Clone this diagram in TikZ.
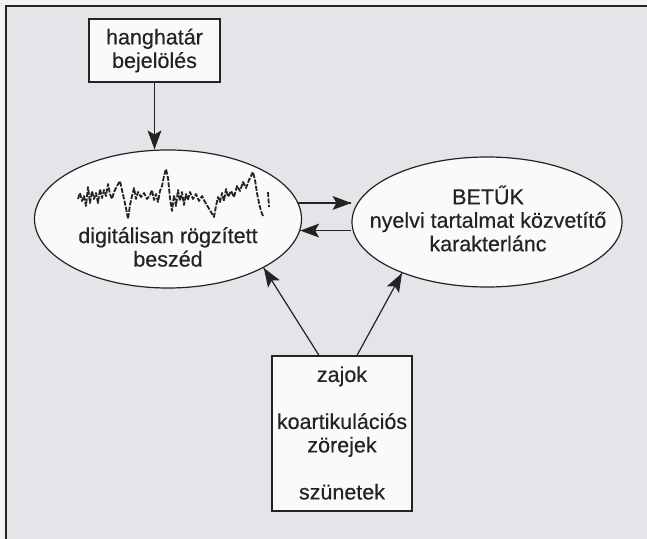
\documentclass[tikz,border=0pt]{standalone}
\usepackage{fontspec}
\setmainfont{Liberation Sans}[FakeBold=0.4]
\usetikzlibrary{shapes.geometric,calc,decorations.markings}
\definecolor{paper}{RGB}{242,242,243}
\definecolor{panel}{RGB}{229,229,233}
\definecolor{ink}{RGB}{35,35,35}
\definecolor{boxfill}{RGB}{250,250,250}
\tikzset{
  x=1bp, y=-1bp,
  every node/.style={font=\fontsize{21.5bp}{23.5bp}\selectfont, text=ink},
  box/.style={draw=ink, line width=1.2bp, fill=boxfill, inner sep=0pt},
  oval/.style={ellipse, draw=ink, line width=1.2bp, fill=boxfill, inner sep=0pt},
  txt/.style={align=center, inner sep=0pt},
  % straight connector ending in a filled, slightly notched head
  arr/.style={draw=ink, line width=1.2bp, postaction={decorate},
    decoration={markings, mark=at position 1 with {
      \fill[ink] (0pt,0pt) -- (-19pt,7pt) -- (-15pt,0pt) -- (-19pt,-7pt) -- cycle;}}},
  wave/.style={draw=ink, line width=1.8bp, line join=round, dash pattern=on 5bp off 1.5bp}
}
\begin{document}
\begin{tikzpicture}
  % page and panel
  \fill[paper] (0,0) rectangle (647,539);
  \useasboundingbox (0,0) rectangle (647,539);
  \begin{scope}
    \clip (0,0) rectangle (647,539);
    \filldraw[fill=panel, draw=ink, line width=1.8bp] (6,6) rectangle (700,600);
  \end{scope}

  % boxes and ovals
  \node[box, minimum width=131bp, minimum height=63bp, txt] (t) at (154.5,50.5)
    {hanghatár\\bejelölés};
  \node[oval, minimum width=267bp, minimum height=138bp] (l) at (168,219) {};
  \node[oval, minimum width=270bp, minimum height=130bp] (r) at (487,222) {};
  \node[box, minimum width=140bp, minimum height=155bp] (b) at (342,433.5) {};

  % texts
  \node[txt] (ltext) at (168,247) {digitálisan rögzített\\beszéd};
  \node[txt] (rtext) at (488,218.5) {BETŰK\\nyelvi tartalmat közvetítő\\karakterlánc};
  \node[txt] (btext) at (342,433) {zajok\\[23.5bp]koartikulációs\\zörejek\\[23.5bp]szünetek};

  % recorded speech waveform
  \draw[wave] plot coordinates {
    (78,199) (80,193) (82,201) (84,196) (86,206) (88,187) (90,203) (92,191)
    (94,199) (96,193) (98,203) (100,189) (102,198) (104,190) (106,196)
    (108,184) (110,194) (112,199) (114,192) (117,186) (120,181)
    (122,190) (124,199) (126,208) (128,219) (130,205) (132,196) (134,188)
    (136,199) (138,192) (141,197) (144,193) (147,199) (150,195) (152,190)
    (154,200) (156,194) (158,202) (160,191) (162,186) (164,176) (166,169)
    (168,178) (170,198) (172,211) (174,195) (176,206) (178,190) (180,201)
    (182,192) (184,205) (186,194) (188,200) (190,192) (193,199) (196,194)
    (199,201) (202,196) (205,202) (208,207) (211,212) (214,217) (216,206)
    (218,197) (220,202) (222,193) (224,201) (226,189) (228,197) (231,191)
    (234,197) (237,186) (240,191) (243,182) (246,188) (249,180) (251,176)
    (253,172) (255,180) (257,193) (259,203) (261,211) (263,216)};
  \draw[wave] (268,192) -- (269,207);

  % connectors
  \draw[arr] (t.south) -- (t.south |- l.north);
  \draw[arr] (l.7) -- (l.7 -| r.west);
  \draw[arr] (r.west |- l.-5) -- (l.-5);
  \draw[arr] ([xshift=-23bp]b.north) -- (l.-27);
  \draw[arr] ([xshift=15bp]b.north) -- (r.211);
\end{tikzpicture}
\end{document}
